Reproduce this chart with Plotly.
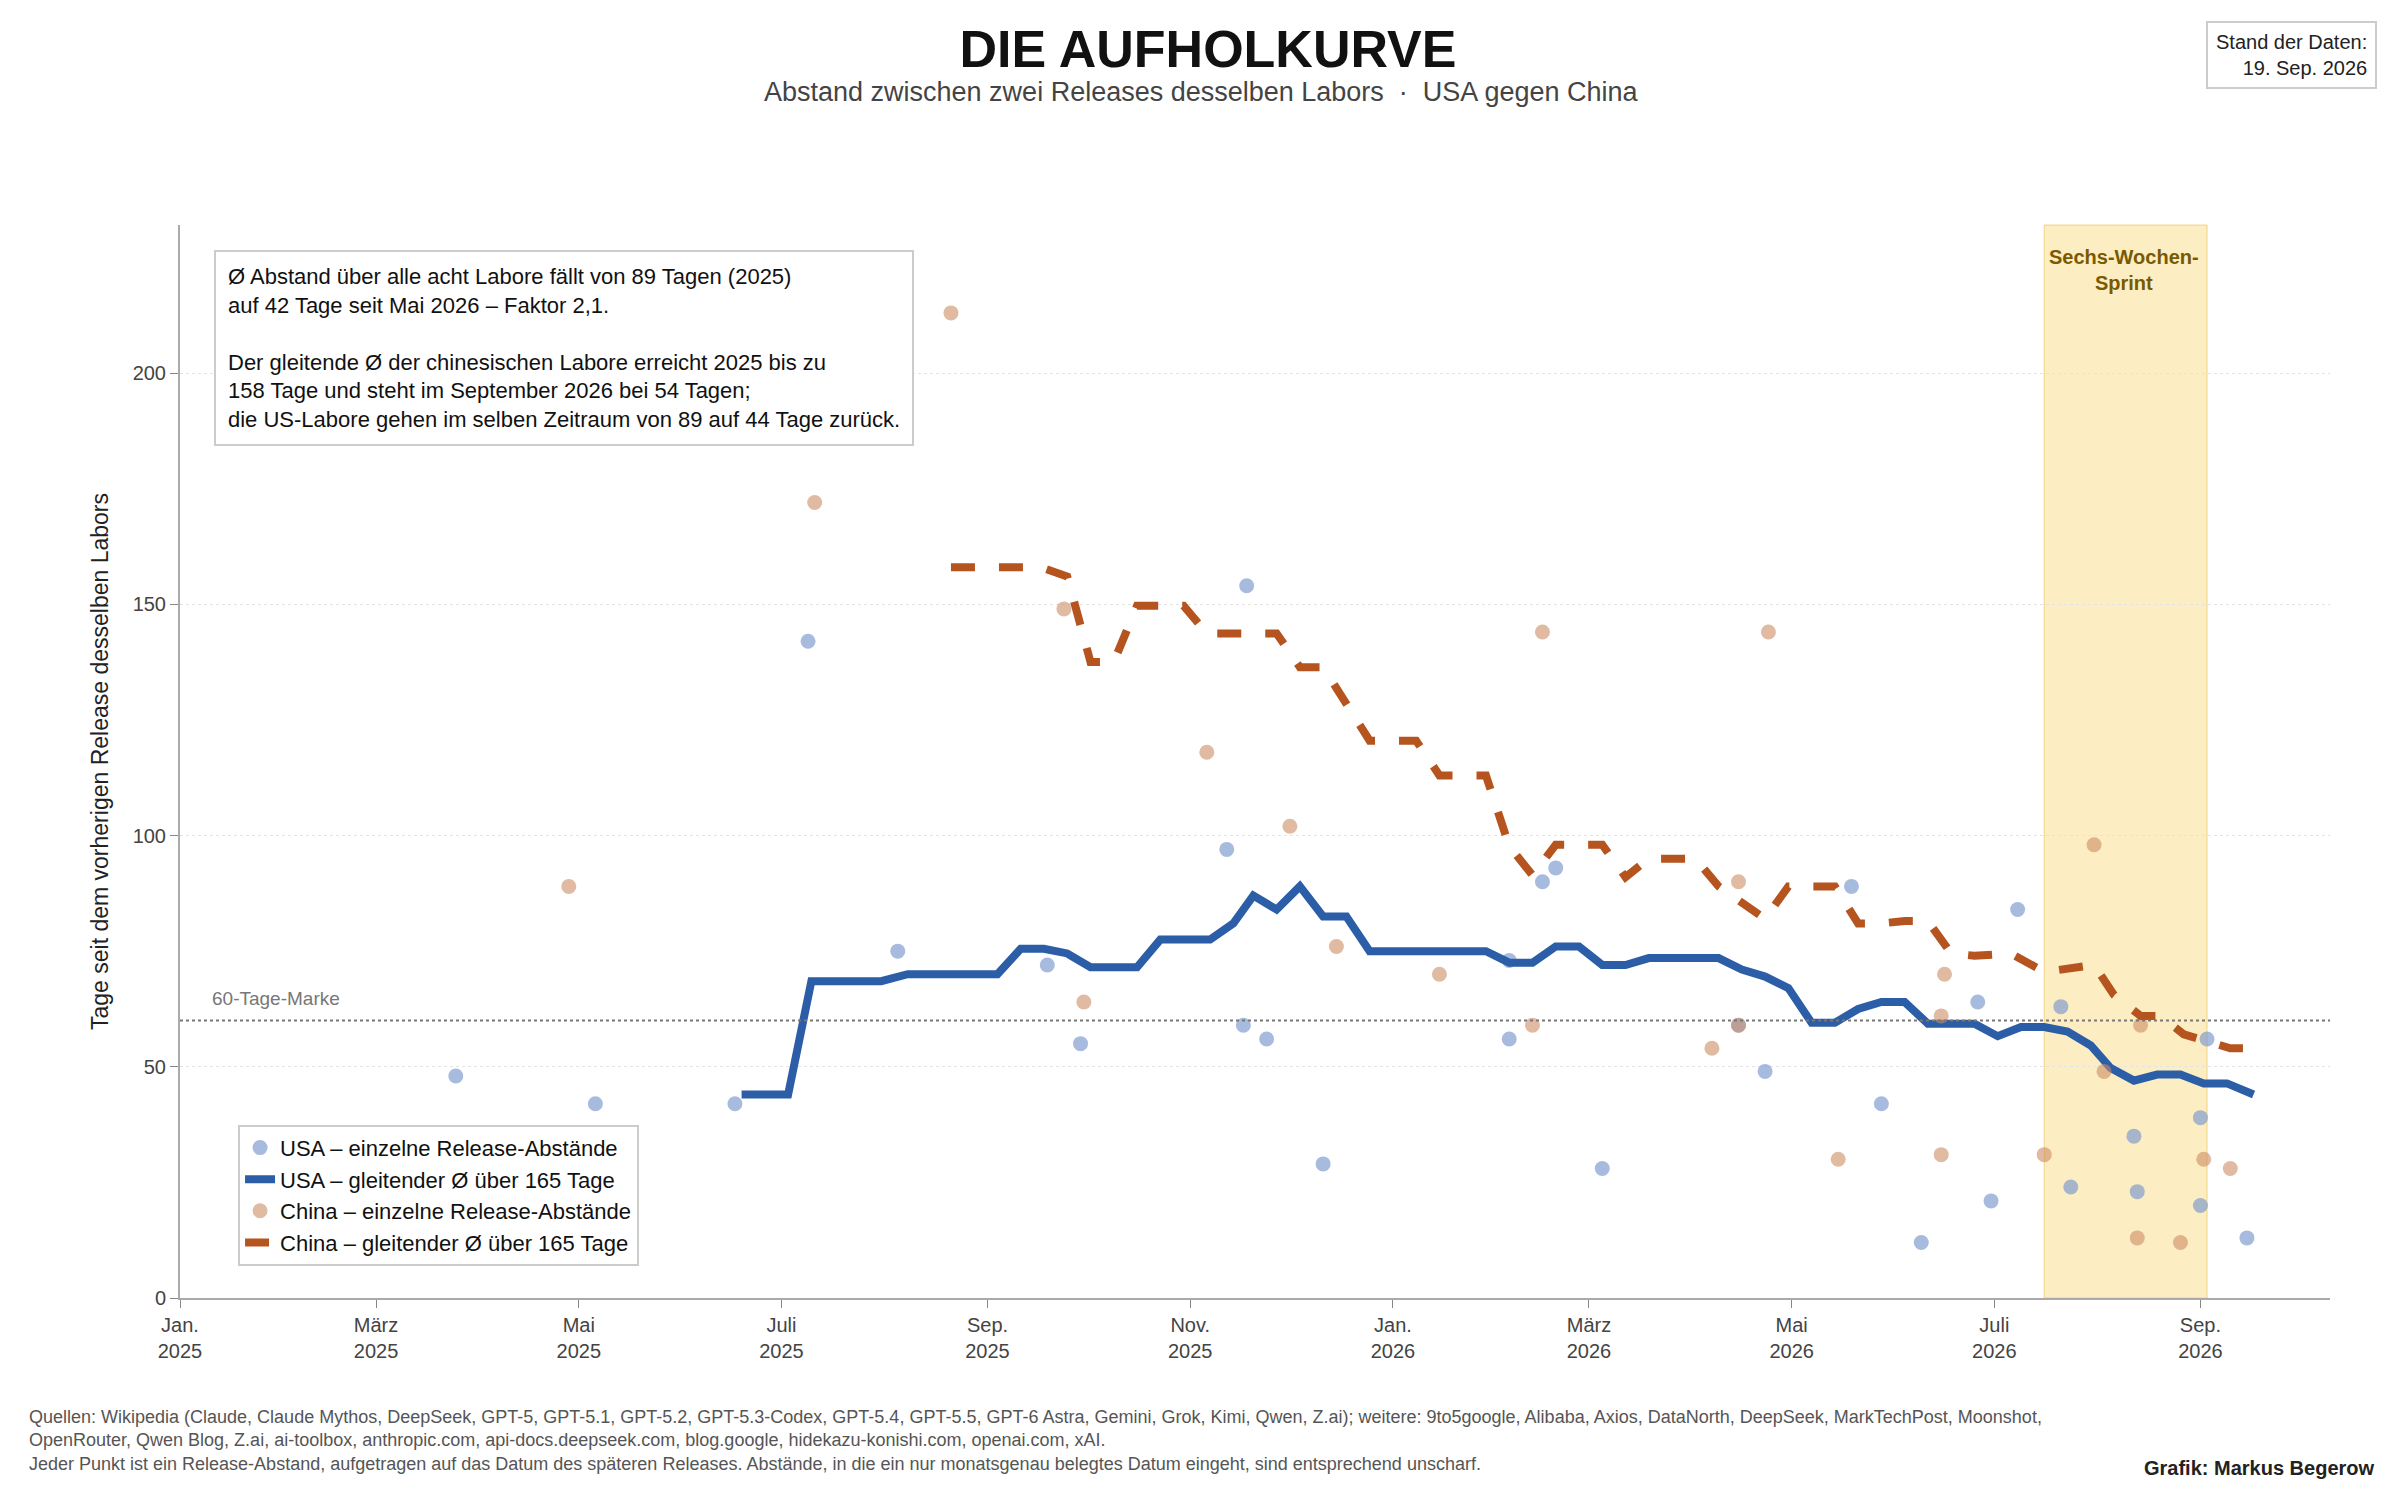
import plotly.graph_objects as go

# Einzelne Release-Abstände (Datum des späteren Releases, Tage)
usa_dates = ['2025-03-25', '2025-05-06', '2025-06-17', '2025-07-09', '2025-08-05', '2025-09-19',
             '2025-09-29', '2025-11-12', '2025-11-17', '2025-11-18', '2025-11-24', '2025-12-11',
             '2026-02-05', '2026-02-05', '2026-02-15', '2026-02-19', '2026-03-05', '2026-04-15',
             '2026-04-23', '2026-05-19', '2026-05-28', '2026-06-09', '2026-06-26', '2026-06-30',
             '2026-07-08', '2026-07-21', '2026-07-24', '2026-08-12', '2026-08-13', '2026-09-01',
             '2026-09-01', '2026-09-03', '2026-09-15']
usa_gaps = [48, 42, 42, 142, 75, 72, 55, 97, 59, 154, 56, 29, 56, 73, 90, 93, 28, 59, 49, 89,
            42, 12, 64, 21, 84, 63, 24, 35, 23, 39, 20, 56, 13]

china_dates = ['2025-04-28', '2025-07-11', '2025-08-21', '2025-09-24', '2025-09-30', '2025-11-06',
               '2025-12-01', '2025-12-15', '2026-01-15', '2026-02-12', '2026-02-15', '2026-04-07',
               '2026-04-15', '2026-04-15', '2026-04-24', '2026-05-15', '2026-06-15', '2026-06-15',
               '2026-06-16', '2026-07-16', '2026-07-31', '2026-08-03', '2026-08-13', '2026-08-14',
               '2026-08-26', '2026-09-02', '2026-09-10']
china_gaps = [89, 172, 213, 149, 64, 118, 102, 76, 70, 59, 144, 54, 90, 59, 144, 30, 31, 61, 70,
              31, 98, 49, 13, 59, 12, 30, 28]

# Gleitender Durchschnitt über 165 Tage
usa_roll_dates = ['2025-06-19', '2025-07-03', '2025-07-10', '2025-07-31', '2025-08-08', '2025-09-04',
                  '2025-09-11', '2025-09-18', '2025-09-25', '2025-10-02', '2025-10-16', '2025-10-23',
                  '2025-11-07', '2025-11-14', '2025-11-20', '2025-11-27', '2025-12-04', '2025-12-11',
                  '2025-12-18', '2025-12-25', '2026-01-29', '2026-02-05', '2026-02-12', '2026-02-19',
                  '2026-02-26', '2026-03-05', '2026-03-12', '2026-03-19', '2026-04-09', '2026-04-16',
                  '2026-04-23', '2026-04-30', '2026-05-07', '2026-05-14', '2026-05-21', '2026-05-28',
                  '2026-06-04', '2026-06-11', '2026-06-25', '2026-07-02', '2026-07-09', '2026-07-16',
                  '2026-07-23', '2026-07-30', '2026-08-05', '2026-08-12', '2026-08-19', '2026-08-26',
                  '2026-09-02', '2026-09-09', '2026-09-17']
usa_roll = [44, 44, 68.5, 68.5, 70, 70, 75.5, 75.5, 74.5, 71.5, 71.5, 77.5, 77.5, 81, 87, 84, 89,
            82.5, 82.5, 75, 75, 72.5, 72.5, 76, 76, 72, 72, 73.5, 73.5, 71, 69.5, 67, 59.5, 59.5,
            62.5, 64, 64, 59.3, 59.3, 56.6, 58.6, 58.6, 57.6, 54.6, 49.7, 47, 48.3, 48.3, 46.4,
            46.4, 44]

china_roll_dates = ['2025-08-21', '2025-09-17', '2025-09-25', '2025-10-02', '2025-10-09', '2025-10-16',
                    '2025-10-30', '2025-11-06', '2025-11-27', '2025-12-04', '2025-12-11', '2025-12-18',
                    '2025-12-25', '2026-01-08', '2026-01-15', '2026-01-29', '2026-02-05', '2026-02-12',
                    '2026-02-19', '2026-03-05', '2026-03-12', '2026-03-19', '2026-04-02', '2026-04-09',
                    '2026-04-16', '2026-04-23', '2026-04-30', '2026-05-14', '2026-05-21', '2026-05-28',
                    '2026-06-04', '2026-06-11', '2026-06-18', '2026-06-25', '2026-07-06', '2026-07-16',
                    '2026-07-31', '2026-08-06', '2026-08-14', '2026-08-20', '2026-08-27', '2026-09-03',
                    '2026-09-10', '2026-09-14']
china_roll = [158, 158, 156, 137.5, 137.5, 149.7, 149.7, 143.7, 143.7, 136.4, 136.4, 128.8, 120.5,
              120.5, 113, 113, 97.7, 91.4, 98, 98, 91, 95, 95, 89, 85.4, 82, 89, 89, 81, 81, 81.5,
              81.5, 74.5, 74, 74.5, 70.5, 72, 65.5, 61, 61, 57, 55.3, 54, 54]

tick_vals = ['2025-01-01', '2025-03-01', '2025-05-01', '2025-07-01', '2025-09-01', '2025-11-01',
             '2026-01-01', '2026-03-01', '2026-05-01', '2026-07-01', '2026-09-01']
tick_text = ['Jan.<br>2025', 'März<br>2025', 'Mai<br>2025', 'Juli<br>2025', 'Sep.<br>2025',
             'Nov.<br>2025', 'Jan.<br>2026', 'März<br>2026', 'Mai<br>2026', 'Juli<br>2026',
             'Sep.<br>2026']

FONT = 'Liberation Sans, Arial, sans-serif'

fig = go.Figure()

fig.add_vrect(x0='2026-07-16', x1='2026-09-03', fillcolor='rgba(245,205,80,0.35)',
              line=dict(color='rgba(230,190,80,0.6)', width=1), layer='below')
fig.add_hline(y=60, line=dict(color='#777777', width=2, dash='dot'))

fig.add_trace(go.Scatter(x=usa_dates, y=usa_gaps, mode='markers', name='USA – einzelne Release-Abstände',
                         marker=dict(size=15, color='rgba(120,150,205,0.65)')))
fig.add_trace(go.Scatter(x=usa_roll_dates, y=usa_roll, mode='lines', name='USA – gleitender Ø über 165 Tage',
                         line=dict(color='#2b5ea7', width=8)))
fig.add_trace(go.Scatter(x=china_dates, y=china_gaps, mode='markers', name='China – einzelne Release-Abstände',
                         marker=dict(size=15, color='rgba(205,140,100,0.6)')))
fig.add_trace(go.Scatter(x=china_roll_dates, y=china_roll, mode='lines', name='China – gleitender Ø über 165 Tage',
                         line=dict(color='#b5541e', width=8, dash='dash')))

fig.update_layout(
    width=2400, height=1500,
    margin=dict(l=172, r=78, t=217, b=210),
    plot_bgcolor='white', paper_bgcolor='white',
    font=dict(family=FONT, size=20, color='#444444'),
    title=dict(text='<b>DIE AUFHOLKURVE</b>', x=0.5, xanchor='center', y=0.985, yanchor='top',
               font=dict(size=52, color='#111111')),
    showlegend=True,
    legend=dict(x=0.027, y=0.03, xanchor='left', yanchor='bottom', bgcolor='white',
                bordercolor='#cccccc', borderwidth=2, font=dict(size=22, color='#111111')),
    xaxis=dict(type='date', range=['2025-01-01', '2026-10-10'], tickvals=tick_vals, ticktext=tick_text,
               showgrid=False, showline=True, linecolor='#aaaaaa', linewidth=2, ticks='outside',
               ticklen=8, tickcolor='#888888', zeroline=False),
    yaxis=dict(range=[0, 232], tickvals=[0, 50, 100, 150, 200], showgrid=True, gridcolor='#e3e3e3',
               griddash='dot', showline=True, linecolor='#aaaaaa', linewidth=2, ticks='outside',
               ticklen=8, tickcolor='#888888', zeroline=False,
               title=dict(text='Tage seit dem vorherigen Release desselben Labors',
                          font=dict(size=23, color='#222222'), standoff=18)),
)

fig.add_annotation(text='Abstand zwischen zwei Releases desselben Labors  ·  USA gegen China',
                   xref='paper', yref='paper', x=0.475, y=1.124, xanchor='center', yanchor='middle',
                   showarrow=False, font=dict(size=27, color='#444444'))
fig.add_annotation(text='Stand der Daten:<br>19. Sep. 2026', xref='paper', yref='paper',
                   x=1.022, y=1.19, xanchor='right', yanchor='top', align='right', showarrow=False,
                   bordercolor='#cccccc', borderwidth=2, borderpad=8, bgcolor='white',
                   font=dict(size=20, color='#222222'))
fig.add_annotation(text='Ø Abstand über alle acht Labore fällt von 89 Tagen (2025)<br>'
                        'auf 42 Tage seit Mai 2026 – Faktor 2,1.<br><br>'
                        'Der gleitende Ø der chinesischen Labore erreicht 2025 bis zu<br>'
                        '158 Tage und steht im September 2026 bei 54 Tagen;<br>'
                        'die US-Labore gehen im selben Zeitraum von 89 auf 44 Tage zurück.',
                   xref='paper', yref='paper', x=0.016, y=0.977, xanchor='left', yanchor='top',
                   align='left', showarrow=False, bordercolor='#cccccc', borderwidth=2, borderpad=12,
                   bgcolor='white', font=dict(size=22, color='#111111'))
fig.add_annotation(text='<b>Sechs-Wochen-<br>Sprint</b>', x='2026-08-09', y=228, xref='x', yref='y',
                   yanchor='top', showarrow=False, font=dict(size=20, color='#7a5a00'))
fig.add_annotation(text='60-Tage-Marke', x='2025-01-10', y=62, xref='x', yref='y', xanchor='left',
                   yanchor='bottom', showarrow=False, font=dict(size=19, color='#777777'))
fig.add_annotation(text='Quellen: Wikipedia (Claude, Claude Mythos, DeepSeek, GPT-5, GPT-5.1, GPT-5.2, GPT-5.3-Codex, GPT-5.4, '
                        'GPT-5.5, GPT-6 Astra, Gemini, Grok, Kimi, Qwen, Z.ai); weitere: 9to5google, Alibaba, Axios, '
                        'DataNorth, DeepSeek, MarkTechPost, Moonshot,<br>OpenRouter, Qwen Blog, Z.ai, ai-toolbox, '
                        'anthropic.com, api-docs.deepseek.com, blog.google, hidekazu-konishi.com, openai.com, xAI.<br>'
                        'Jeder Punkt ist ein Release-Abstand, aufgetragen auf das Datum des späteren Releases. '
                        'Abstände, in die ein nur monatsgenau belegtes Datum eingeht, sind entsprechend unscharf.',
                   xref='paper', yref='paper', x=-0.071, y=-0.1, xanchor='left', yanchor='top', align='left',
                   showarrow=False, font=dict(size=18, color='#555555'))
fig.add_annotation(text='<b>Grafik: Markus Begerow</b>', xref='paper', yref='paper', x=1.022, y=-0.158,
                   xanchor='right', yanchor='middle', showarrow=False, font=dict(size=20, color='#222222'))

fig.write_html("out.html")
